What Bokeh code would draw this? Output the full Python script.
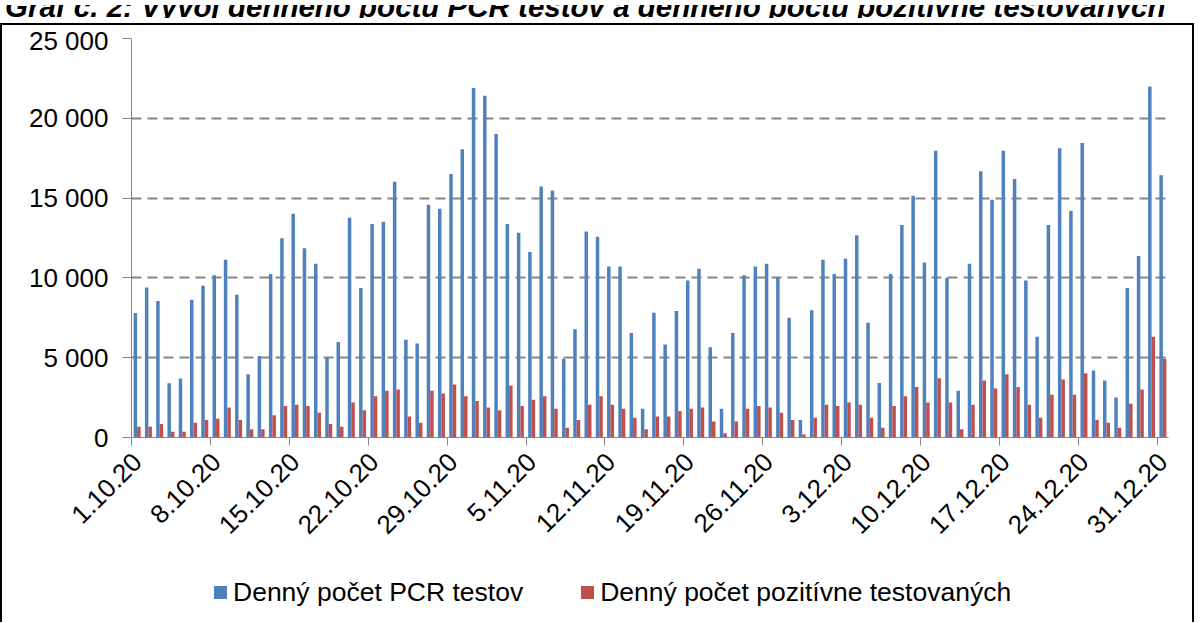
import math
import numpy as np
import pandas as pd
from bokeh.plotting import figure
from bokeh.models import Range1d, FixedTicker, Div, ColumnDataSource
from bokeh.layouts import column
from bokeh.transform import dodge
from bokeh.embed import file_html
from bokeh.resources import INLINE

# ---------------- data ----------------
title_text = "Graf č. 2: Vývoj denného počtu PCR testov a denného počtu pozitívne testovaných"

dates = [f"{d.day}.{d.month}.20" for d in pd.date_range("2020-10-01", "2020-12-31")]

pcr_tests = [
    7800, 9400, 8550, 3400, 3700, 8630, 9510, 10160, 11140, 8950, 3970, 5100, 10240, 12480, 14020, 11850,
    10890, 5000, 5980, 13770, 9360, 13380, 13520, 16030, 6120, 5890, 14590, 14340, 16510, 18060, 21900, 21420,
    19020, 13380, 12830, 11620, 15720, 15470, 4930, 6790, 12900, 12580, 10720, 10720, 6540, 1800, 7820, 5830,
    7920, 9840, 10580, 5660, 1800, 6540, 10160, 10720, 10890, 10010, 7500, 1090, 7980, 11140, 10240, 11200,
    12670, 7190, 3410, 10240, 13310, 15150, 10970, 17970, 10010, 2930, 10890, 16680, 14900, 17970, 16200, 9840,
    6310, 13310, 18120, 14190, 18460, 4200, 3570, 2510, 9360, 11370, 21990, 16430,
]

positives = [
    670, 670, 840, 360, 360, 920, 1090, 1170, 1880, 1090, 520, 520, 1400, 1970, 2050, 1970,
    1550, 840, 670, 2200, 1710, 2590, 2930, 3010, 1320, 920, 2930, 2760, 3320, 2590, 2280, 1880,
    1710, 3240, 1970, 2360, 2590, 1800, 610, 1090, 2050, 2590, 2050, 1800, 1230, 520, 1320, 1320,
    1650, 1800, 1880, 1000, 270, 1000, 1800, 1970, 1880, 1550, 1090, 190, 1230, 2050, 1970, 2200,
    2050, 1230, 610, 1970, 2590, 3160, 2200, 3720, 2200, 520, 2050, 3570, 3070, 3970, 3160, 2050,
    1230, 2680, 3640, 2680, 4030, 1090, 920, 610, 2110, 3010, 6310, 4930,
]

x_tick_labels = ["1.10.20", "8.10.20", "15.10.20", "22.10.20", "29.10.20", "5.11.20",
                 "12.11.20", "19.11.20", "26.11.20", "3.12.20", "10.12.20", "17.12.20",
                 "24.12.20", "31.12.20"]

y_ticks = [0, 5000, 10000, 15000, 20000, 25000]
y_tick_labels = ["0", "5 000", "10 000", "15 000", "20 000", "25 000"]

series_names = ["Denný počet PCR testov", "Denný počet pozitívne testovaných"]
series_colors = ["#4F81BD", "#C0504D"]

# ---------------- chart ----------------
FONT = "Liberation Sans"
GRAY = "#868686"
BORDER = "2px solid black"

n = len(dates)
src = ColumnDataSource(dict(
    x=np.arange(n) + 0.5,
    date=dates,
    pcr=pcr_tests,
    pos=positives,
))

p = figure(
    frame_width=1037, frame_height=399,
    x_range=Range1d(0, n), y_range=Range1d(y_ticks[0], y_ticks[-1]),
    output_backend="svg", toolbar_location=None,
    min_border_left=129, min_border_right=14, min_border_top=13, min_border_bottom=128,
    background_fill_color="white", border_fill_color="white",
)
p.outline_line_color = None

bw = 0.31
p.vbar(x=dodge("x", -bw / 2), top="pcr", width=bw, source=src,
       fill_color=series_colors[0], line_color=None)
p.vbar(x=dodge("x", bw / 2), top="pos", width=bw, source=src,
       fill_color=series_colors[1], line_color=None)

# y axis
yax = p.yaxis[0]
yax.ticker = FixedTicker(ticks=y_ticks)
yax.major_label_overrides = {t: l for t, l in zip(y_ticks, y_tick_labels)}
yax.major_tick_out = 9
yax.major_tick_in = 0
yax.minor_tick_line_color = None
yax.axis_line_color = GRAY
yax.major_tick_line_color = GRAY
yax.major_label_text_font = FONT
yax.major_label_text_font_size = "26px"
yax.major_label_text_color = "black"
yax.major_label_standoff = 14

p.ygrid.grid_line_color = GRAY
p.ygrid.grid_line_dash = "10 6"
p.ygrid.grid_line_width = 2
p.xgrid.visible = False

# x axis: labels centred on days, tick marks between days every 7 days
tick_idx = [dates.index(lbl) for lbl in x_tick_labels]
centers = [i + 0.5 for i in tick_idx]
xax = p.xaxis[0]
xax.ticker = FixedTicker(ticks=centers, minor_ticks=[float(i) for i in tick_idx])
xax.major_label_overrides = {c: l for c, l in zip(centers, x_tick_labels)}
xax.major_label_orientation = math.pi / 4
xax.major_tick_line_color = None
xax.major_tick_out = 0
xax.major_tick_in = 0
xax.minor_tick_out = 8
xax.minor_tick_in = 0
xax.minor_tick_line_color = GRAY
xax.axis_line_color = GRAY
xax.major_label_standoff = 12
xax.major_label_text_font = FONT
xax.major_label_text_font_size = "26px"
xax.major_label_text_color = "black"

# legend (HTML, below the plot, inside the same black frame)
def legend_item(name, color, extra_left):
    return (f'<span style="display:inline-flex; align-items:center; margin-left:{extra_left}px;">'
            f'<span style="display:inline-block; width:13px; height:13px; background:{color};'
            f' margin-right:6px;"></span>{name}</span>')

legend_html = (
    f'<div style="padding-top:7px; padding-left:207px; white-space:nowrap; display:flex;'
    f' align-items:center; font-family:\'{FONT}\'; font-size:26.5px; line-height:30px; color:black;">'
    + legend_item(series_names[0], series_colors[0], 0)
    + legend_item(series_names[1], series_colors[1], 58)
    + '</div>'
)
legend_div = Div(text=legend_html, width=1180, height=47,
                 styles={"overflow": "hidden", "background": "white"})

chart_box = column(p, legend_div, spacing=0,
                   styles={"border": BORDER, "border-bottom": "none", "background": "white"})

title_div = Div(
    text=(f'<div style="margin-top:-16px; white-space:nowrap; font-family:\'{FONT}\';'
          f' font-size:29.5px; font-weight:bold; font-style:italic; line-height:30px;'
          f' color:black;">{title_text}</div>'),
    width=1184, height=13,
    styles={"overflow": "hidden"},
)

layout = column(title_div, chart_box, spacing=0)

open("out.html", "w").write(file_html(layout, INLINE))
